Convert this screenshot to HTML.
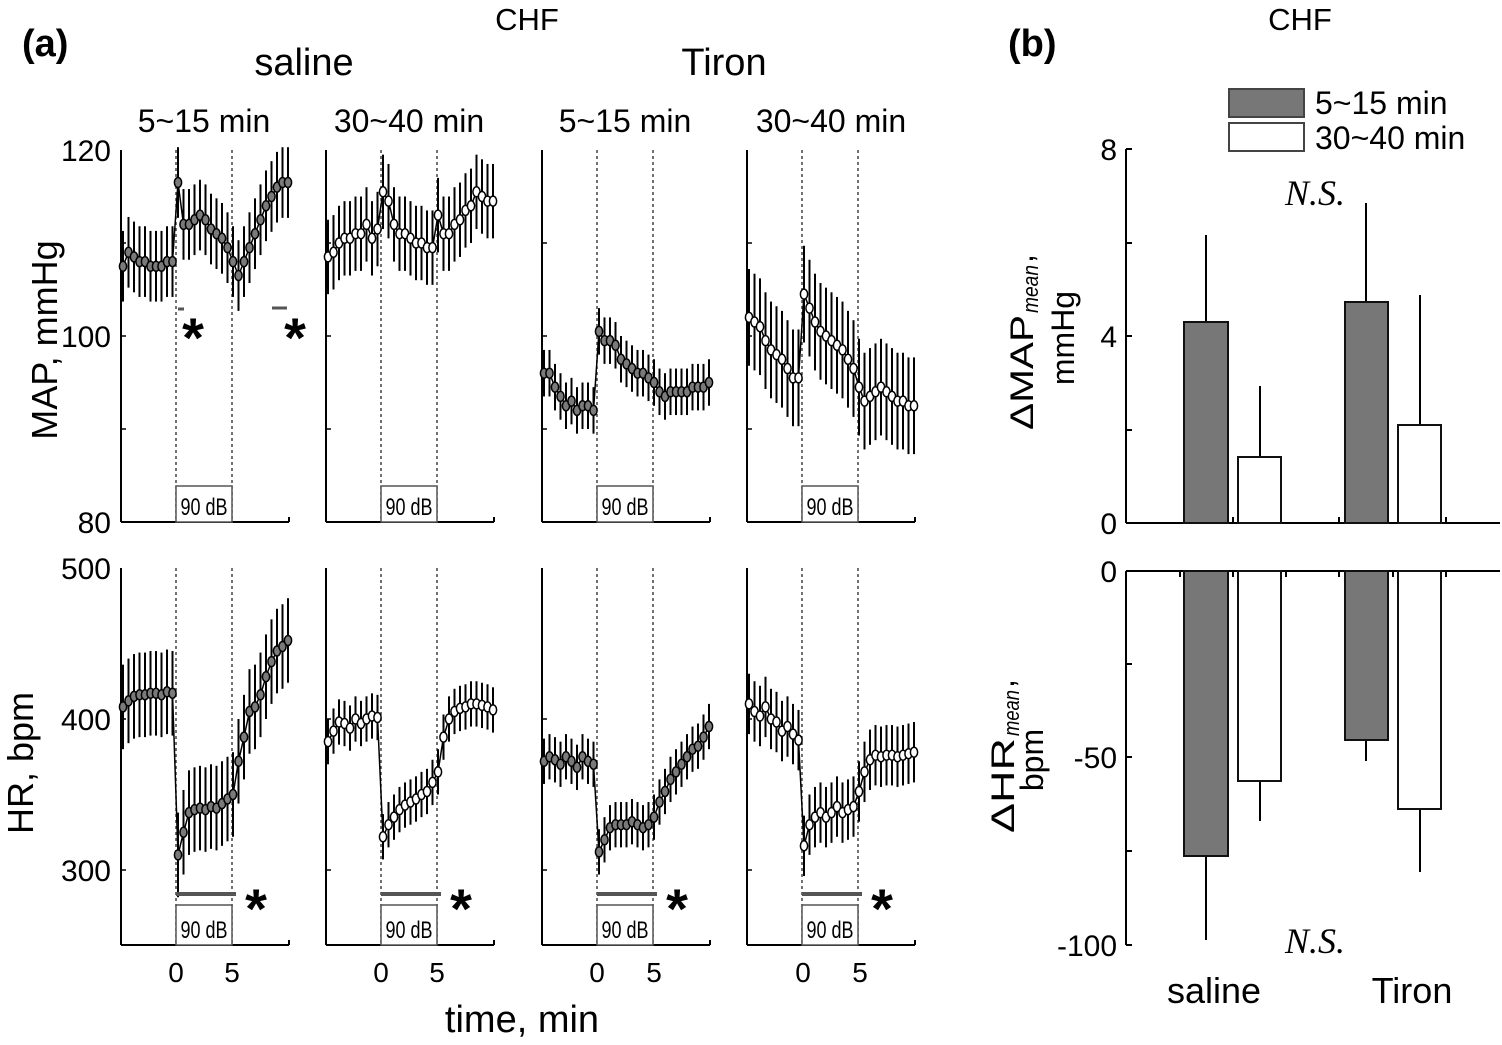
<!DOCTYPE html>
<html><head><meta charset="utf-8"><style>
body{margin:0;background:#fff}
svg{display:block;font-family:"Liberation Sans",Arial,sans-serif}
</style></head><body>
<svg id="s" width="1502" height="1045" viewBox="0 0 1502 1045" xmlns="http://www.w3.org/2000/svg">
<text x="22" y="56" font-size="38" font-weight="bold">(a)</text>
<text x="527" y="30" font-size="31" text-anchor="middle">CHF</text>
<text x="304" y="75" font-size="38" text-anchor="middle">saline</text>
<text x="724" y="75" font-size="38" text-anchor="middle">Tiron</text>
<text x="204" y="132" font-size="32" text-anchor="middle">5~15 min</text>
<text x="409" y="132" font-size="32" text-anchor="middle">30~40 min</text>
<text x="625" y="132" font-size="32" text-anchor="middle">5~15 min</text>
<text x="831" y="132" font-size="32" text-anchor="middle">30~40 min</text>
<text x="522" y="1032" font-size="38" text-anchor="middle">time, min</text>
<text transform="translate(57,340) rotate(-90)" font-size="36" text-anchor="middle">MAP, mmHg</text>
<text transform="translate(33,763) rotate(-90)" font-size="36" text-anchor="middle">HR, bpm</text>
<g font-size="30" text-anchor="end">
<text x="111" y="161">120</text><text x="111" y="347">100</text><text x="111" y="533">80</text>
<text x="111" y="579">500</text><text x="111" y="730">400</text><text x="111" y="881">300</text>
</g>
<g font-size="28" text-anchor="middle">
<text x="176" y="982">0</text><text x="232" y="982">5</text>
<text x="381" y="982">0</text><text x="437" y="982">5</text>
<text x="597" y="982">0</text><text x="654" y="982">5</text>
<text x="803" y="982">0</text><text x="860" y="982">5</text>
</g>
<g id="plots"></g>
<!-- panel b -->
<text x="1008" y="56" font-size="38" font-weight="bold">(b)</text>
<text x="1300" y="30" font-size="31" text-anchor="middle">CHF</text>
<rect x="1229" y="89" width="75" height="28" fill="#777" stroke="#444" stroke-width="2"/>
<rect x="1229" y="123" width="75" height="28" fill="#fff" stroke="#444" stroke-width="2"/>
<text x="1315" y="114" font-size="32">5~15 min</text>
<text x="1315" y="149" font-size="32">30~40 min</text>
<text x="1315" y="205" font-size="36" font-style="italic" font-family="Liberation Serif,serif" text-anchor="middle">N.S.</text>
<text x="1315" y="953" font-size="36" font-style="italic" font-family="Liberation Serif,serif" text-anchor="middle">N.S.</text>
<text x="1214" y="1003" font-size="36" text-anchor="middle">saline</text>
<text x="1412" y="1003" font-size="36" text-anchor="middle">Tiron</text>
<g font-size="30" text-anchor="end">
<text x="1117" y="160">8</text><text x="1117" y="347">4</text><text x="1117" y="534">0</text>
<text x="1117" y="582">0</text><text x="1117" y="768">-50</text><text x="1117" y="956">-100</text>
</g>
<g transform="translate(1033,342) rotate(-90)">
<text x="-88" y="0" font-size="32" textLength="115" lengthAdjust="spacingAndGlyphs">ΔMAP</text>
<text x="29" y="5" font-size="22" font-style="italic" textLength="48" lengthAdjust="spacingAndGlyphs">mean</text>
<text x="79" y="0" font-size="32">,</text>
</g>
<text transform="translate(1074,338) rotate(-90)" font-size="32" text-anchor="middle">mmHg</text>
<g transform="translate(1014,760) rotate(-90)">
<text x="-73" y="0" font-size="32" textLength="95" lengthAdjust="spacingAndGlyphs">ΔHR</text>
<text x="24" y="5" font-size="22" font-style="italic" textLength="46" lengthAdjust="spacingAndGlyphs">mean</text>
<text x="72" y="0" font-size="32">,</text>
</g>
<text transform="translate(1043,760) rotate(-90)" font-size="32" text-anchor="middle">bpm</text>
<g stroke="#000" stroke-width="2" fill="none">
<line x1="1126" y1="149" x2="1126" y2="523"/><line x1="1126" y1="523" x2="1500" y2="523"/>
<line x1="1126" y1="149" x2="1132" y2="149"/><line x1="1126" y1="243" x2="1132" y2="243"/><line x1="1126" y1="336" x2="1132" y2="336"/><line x1="1126" y1="430" x2="1132" y2="430"/>
<line x1="1126" y1="571" x2="1126" y2="945"/><line x1="1126" y1="571" x2="1500" y2="571"/>
<line x1="1126" y1="664" x2="1132" y2="664"/><line x1="1126" y1="757" x2="1132" y2="757"/><line x1="1126" y1="851" x2="1132" y2="851"/><line x1="1126" y1="945" x2="1132" y2="945"/>
<line x1="1233" y1="523" x2="1233" y2="517"/><line x1="1339" y1="523" x2="1339" y2="517"/><line x1="1446" y1="523" x2="1446" y2="517"/>
<line x1="1180" y1="571" x2="1180" y2="577"/><line x1="1233" y1="571" x2="1233" y2="577"/><line x1="1286" y1="571" x2="1286" y2="577"/><line x1="1339" y1="571" x2="1339" y2="577"/><line x1="1393" y1="571" x2="1393" y2="577"/><line x1="1446" y1="571" x2="1446" y2="577"/>
</g>
<g stroke="#000" stroke-width="2">
<line x1="1206" y1="235" x2="1206" y2="322"/><line x1="1260" y1="386" x2="1260" y2="458"/>
<line x1="1366" y1="203" x2="1366" y2="302"/><line x1="1420" y1="295" x2="1420" y2="425"/>
<line x1="1206" y1="856" x2="1206" y2="940"/><line x1="1260" y1="781" x2="1260" y2="821"/>
<line x1="1366" y1="740" x2="1366" y2="761"/><line x1="1420" y1="809" x2="1420" y2="872"/>
</g>
<g stroke="#111" stroke-width="2">
<rect x="1184" y="322" width="44" height="201" fill="#777"/>
<rect x="1238" y="457" width="43" height="66" fill="#fff"/>
<rect x="1345" y="302" width="43" height="221" fill="#777"/>
<rect x="1398" y="425" width="43" height="98" fill="#fff"/>
<rect x="1184" y="571" width="44" height="285" fill="#777"/>
<rect x="1238" y="571" width="43" height="210" fill="#fff"/>
<rect x="1345" y="571" width="43" height="169" fill="#777"/>
<rect x="1398" y="571" width="43" height="238" fill="#fff"/>
</g>
</svg>
<script>
var g=document.getElementById('plots'),h='';
var lefts=[121,326,542,747];
var MAP=[
[107.5,109,108.5,108,108,107.5,107.5,107.5,108,108,116.5,112,112,112.5,113,112.5,111.5,111,110.5,109.5,108,106.5,108,109.5,111,112.5,114,115,116,116.5,116.5],
[108.5,109,110,110.5,110.5,111,111,112,110.5,111.5,115.5,114.5,112,111,111,110.5,110,110,109.5,109.5,113,111,111,112,112.5,113.5,114,115.5,115,114.5,114.5],
[96,96,94.5,93.5,92.5,93,92,92.5,92.5,92,100.5,99.5,99.5,99,97.5,97,96.5,96,96,95.5,95,94,93.5,94,94,94,94,94.5,94.5,94.5,95],
[102,101.5,101,99.5,98.5,98,97.5,96.5,95.5,95.5,104.5,103,101.5,100.5,100,99.5,99,98.5,97.5,96.5,94.5,93,93.5,94,94.5,94,93.5,93,93,92.5,92.5]];
var MAPe=[3.8,4,2.5,5.2];
var HR=[
[408,412,415,416,416,417,417,416,418,417,310,325,338,340,341,340,342,341,344,347,350,372,388,405,408,416,428,438,445,448,452],
[385,392,398,397,394,400,397,400,402,401,322,330,335,340,343,345,347,350,352,358,365,388,400,405,407,408,410,410,409,408,406],
[372,375,373,370,375,372,368,375,372,370,312,320,328,330,330,330,332,330,328,330,335,345,352,360,365,370,375,380,382,388,395],
[410,405,402,408,400,398,392,395,390,386,316,330,335,338,335,338,342,338,340,342,352,365,373,376,375,376,376,375,376,377,378]];
var HRe=[28,15,15,20];
function panel(L,top,bot,vals,err,ymap,fill,dbTop){
 var x0=L+55,x5=L+111,cx=(x0+x5)/2;
 h+='<line x1="'+L+'" y1="'+top+'" x2="'+L+'" y2="'+bot+'" stroke="#000" stroke-width="2"/>';
 h+='<line x1="'+L+'" y1="'+bot+'" x2="'+(L+168)+'" y2="'+bot+'" stroke="#000" stroke-width="2"/>';
 h+='<line x1="'+(L+168)+'" y1="'+bot+'" x2="'+(L+168)+'" y2="'+(bot-5)+'" stroke="#000" stroke-width="2"/>';
 h+='<line x1="'+x0+'" y1="'+top+'" x2="'+x0+'" y2="'+bot+'" stroke="#444" stroke-width="1.5" stroke-dasharray="3,3"/>';
 h+='<line x1="'+x5+'" y1="'+top+'" x2="'+x5+'" y2="'+bot+'" stroke="#444" stroke-width="1.5" stroke-dasharray="3,3"/>';
 h+='<rect x="'+x0+'" y="'+dbTop+'" width="'+(x5-x0)+'" height="'+(bot-dbTop)+'" fill="#fff" stroke="#555" stroke-width="1.5"/>';
 h+='<text x="'+cx+'" y="'+(bot-7)+'" font-size="24" text-anchor="middle" transform="translate('+cx+',0) scale(0.75,1) translate('+(-cx)+',0)">90 dB</text>';
 var pts=[],i,x,y;
 for(i=0;i<31;i++){x=L+2+i*5.5;y=ymap(vals[i]);pts.push(x.toFixed(1)+','+y.toFixed(1));
  var e=ymap(vals[i]-err)-y;h+='<line x1="'+x+'" y1="'+(y-e)+'" x2="'+x+'" y2="'+(y+e)+'" stroke="#000" stroke-width="2"/>';}
 h+='<polyline points="'+pts.join(' ')+'" fill="none" stroke="#000" stroke-width="1.5"/>';
 for(i=0;i<31;i++){var p=pts[i].split(',');h+='<ellipse cx="'+p[0]+'" cy="'+p[1]+'" rx="3.6" ry="5" fill="'+fill+'" stroke="#000" stroke-width="1.5"/>';}
}
for(var k=0;k<4;k++){
 var L=lefts[k],fill=(k%2==0)?'#7a7a7a':'#fff';
 panel(L,150,522,MAP[k],MAPe[k],function(v){return 522-(v-80)*9.3},fill,486);
 panel(L,568,945,HR[k],HRe[k],function(v){return 719-(v-400)*1.51},fill,905);
 [110,100,90].forEach(function(v){var y=522-(v-80)*9.3;h+='<line x1="'+L+'" y1="'+y+'" x2="'+(L+5)+'" y2="'+y+'" stroke="#000" stroke-width="1.5"/>';});
 [400,300].forEach(function(v){var y=719-(v-400)*1.51;h+='<line x1="'+L+'" y1="'+y+'" x2="'+(L+5)+'" y2="'+y+'" stroke="#000" stroke-width="1.5"/>';});
 h+='<line x1="'+(L+55)+'" y1="894" x2="'+(L+115)+'" y2="894" stroke="#555" stroke-width="4"/>';
 h+='<text x="'+(L+135)+'" y="928" font-size="56" font-weight="bold" text-anchor="middle">*</text>';
}
h+='<line x1="178" y1="309" x2="184" y2="309" stroke="#555" stroke-width="3"/>';
h+='<text x="193" y="357" font-size="56" font-weight="bold" text-anchor="middle">*</text>';
h+='<line x1="272" y1="308" x2="287" y2="308" stroke="#555" stroke-width="3"/>';
h+='<text x="295" y="357" font-size="56" font-weight="bold" text-anchor="middle">*</text>';
g.innerHTML=h;
</script>
</body></html>
